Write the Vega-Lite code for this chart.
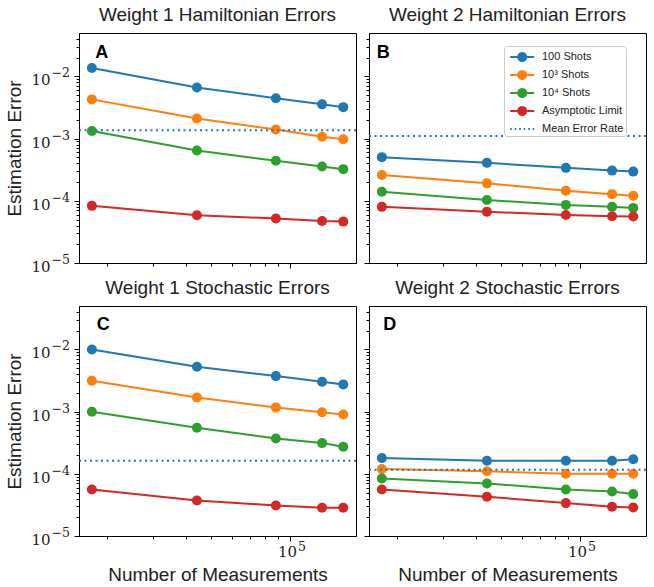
{
  "$schema": "https://vega.github.io/schema/vega-lite/v6.json",
  "padding": {"left": 5, "top": 5, "right": 4, "bottom": 0},
  "background": "white",
  "config": {
    "view": {"stroke": "black", "strokeWidth": 1},
    "title": {"font": "Liberation Sans", "fontSize": 19, "fontWeight": "normal", "color": "#222222", "anchor": "middle", "offset": 8, "frame": "group"},
    "axis": {"grid": false, "domainColor": "black", "tickColor": "black", "labelColor": "#222222", "titleColor": "#222222", "labelFont": "DejaVu Serif", "labelFontSize": 15, "titleFont": "Liberation Sans", "titleFontSize": 19, "titleFontWeight": "normal", "labelOverlap": false, "labelFlush": false, "tickWidth": 1, "labelPadding": 3}
  },
  "datasets": {
    "pts": [
      {"p":"A","s":"100 Shots","n":17500,"e":0.01365},
      {"p":"A","s":"100 Shots","n":44000,"e":0.00664},
      {"p":"A","s":"100 Shots","n":88000,"e":0.00445},
      {"p":"A","s":"100 Shots","n":132000,"e":0.00356},
      {"p":"A","s":"100 Shots","n":159000,"e":0.00321},
      {"p":"A","s":"10³ Shots","n":17500,"e":0.00428},
      {"p":"A","s":"10³ Shots","n":44000,"e":0.00211},
      {"p":"A","s":"10³ Shots","n":88000,"e":0.00140},
      {"p":"A","s":"10³ Shots","n":132000,"e":0.00107},
      {"p":"A","s":"10³ Shots","n":159000,"e":0.000975},
      {"p":"A","s":"10⁴ Shots","n":17500,"e":0.00133},
      {"p":"A","s":"10⁴ Shots","n":44000,"e":0.000646},
      {"p":"A","s":"10⁴ Shots","n":88000,"e":0.000440},
      {"p":"A","s":"10⁴ Shots","n":132000,"e":0.000356},
      {"p":"A","s":"10⁴ Shots","n":159000,"e":0.000323},
      {"p":"A","s":"Asymptotic Limit","n":17500,"e":0.000083},
      {"p":"A","s":"Asymptotic Limit","n":44000,"e":0.0000587},
      {"p":"A","s":"Asymptotic Limit","n":88000,"e":0.0000519},
      {"p":"A","s":"Asymptotic Limit","n":132000,"e":0.0000474},
      {"p":"A","s":"Asymptotic Limit","n":159000,"e":0.0000463},
      {"p":"B","s":"100 Shots","n":17500,"e":0.000504},
      {"p":"B","s":"100 Shots","n":44000,"e":0.000408},
      {"p":"B","s":"100 Shots","n":88000,"e":0.000339},
      {"p":"B","s":"100 Shots","n":132000,"e":0.000306},
      {"p":"B","s":"100 Shots","n":159000,"e":0.000295},
      {"p":"B","s":"10³ Shots","n":17500,"e":0.000261},
      {"p":"B","s":"10³ Shots","n":44000,"e":0.000191},
      {"p":"B","s":"10³ Shots","n":88000,"e":0.000145},
      {"p":"B","s":"10³ Shots","n":132000,"e":0.000128},
      {"p":"B","s":"10³ Shots","n":159000,"e":0.000121},
      {"p":"B","s":"10⁴ Shots","n":17500,"e":0.000140},
      {"p":"B","s":"10⁴ Shots","n":44000,"e":0.000103},
      {"p":"B","s":"10⁴ Shots","n":88000,"e":0.000086},
      {"p":"B","s":"10⁴ Shots","n":132000,"e":0.000080},
      {"p":"B","s":"10⁴ Shots","n":159000,"e":0.000077},
      {"p":"B","s":"Asymptotic Limit","n":17500,"e":0.000080},
      {"p":"B","s":"Asymptotic Limit","n":44000,"e":0.000067},
      {"p":"B","s":"Asymptotic Limit","n":88000,"e":0.000059},
      {"p":"B","s":"Asymptotic Limit","n":132000,"e":0.0000565},
      {"p":"B","s":"Asymptotic Limit","n":159000,"e":0.000056},
      {"p":"C","s":"100 Shots","n":17500,"e":0.0100},
      {"p":"C","s":"100 Shots","n":44000,"e":0.00527},
      {"p":"C","s":"100 Shots","n":88000,"e":0.00373},
      {"p":"C","s":"100 Shots","n":132000,"e":0.00303},
      {"p":"C","s":"100 Shots","n":159000,"e":0.00273},
      {"p":"C","s":"10³ Shots","n":17500,"e":0.00314},
      {"p":"C","s":"10³ Shots","n":44000,"e":0.00169},
      {"p":"C","s":"10³ Shots","n":88000,"e":0.00117},
      {"p":"C","s":"10³ Shots","n":132000,"e":0.00098},
      {"p":"C","s":"10³ Shots","n":159000,"e":0.000901},
      {"p":"C","s":"10⁴ Shots","n":17500,"e":0.000995},
      {"p":"C","s":"10⁴ Shots","n":44000,"e":0.000551},
      {"p":"C","s":"10⁴ Shots","n":88000,"e":0.000371},
      {"p":"C","s":"10⁴ Shots","n":132000,"e":0.000312},
      {"p":"C","s":"10⁴ Shots","n":159000,"e":0.000272},
      {"p":"C","s":"Asymptotic Limit","n":17500,"e":0.000056},
      {"p":"C","s":"Asymptotic Limit","n":44000,"e":0.0000373},
      {"p":"C","s":"Asymptotic Limit","n":88000,"e":0.000031},
      {"p":"C","s":"Asymptotic Limit","n":132000,"e":0.0000285},
      {"p":"C","s":"Asymptotic Limit","n":159000,"e":0.0000285},
      {"p":"D","s":"100 Shots","n":17500,"e":0.000179},
      {"p":"D","s":"100 Shots","n":44000,"e":0.000162},
      {"p":"D","s":"100 Shots","n":88000,"e":0.000162},
      {"p":"D","s":"100 Shots","n":132000,"e":0.000162},
      {"p":"D","s":"100 Shots","n":159000,"e":0.000171},
      {"p":"D","s":"10³ Shots","n":17500,"e":0.000119},
      {"p":"D","s":"10³ Shots","n":44000,"e":0.000110},
      {"p":"D","s":"10³ Shots","n":88000,"e":0.000100},
      {"p":"D","s":"10³ Shots","n":132000,"e":0.000100},
      {"p":"D","s":"10³ Shots","n":159000,"e":0.000100},
      {"p":"D","s":"10⁴ Shots","n":17500,"e":0.0000843},
      {"p":"D","s":"10⁴ Shots","n":44000,"e":0.000070},
      {"p":"D","s":"10⁴ Shots","n":88000,"e":0.000056},
      {"p":"D","s":"10⁴ Shots","n":132000,"e":0.000052},
      {"p":"D","s":"10⁴ Shots","n":159000,"e":0.0000472},
      {"p":"D","s":"Asymptotic Limit","n":17500,"e":0.000056},
      {"p":"D","s":"Asymptotic Limit","n":44000,"e":0.0000428},
      {"p":"D","s":"Asymptotic Limit","n":88000,"e":0.0000338},
      {"p":"D","s":"Asymptotic Limit","n":132000,"e":0.0000296},
      {"p":"D","s":"Asymptotic Limit","n":159000,"e":0.0000288}
    ],
    "mean": [
      {"p":"A","s":"Mean Error Rate","e":0.00136},
      {"p":"B","s":"Mean Error Rate","e":0.0011},
      {"p":"C","s":"Mean Error Rate","e":0.000163},
      {"p":"D","s":"Mean Error Rate","e":0.000116}
    ]
  },
  "columns": 2,
  "bounds": "flush",
  "spacing": {"row": 43, "column": 13},
  "resolve": {"scale": {"color": "independent"}, "legend": {"color": "independent"}},
  "concat": [
    {
      "width": 277, "height": 230,
      "title": {"text": "Weight 1 Hamiltonian Errors", "frame": "group"},
      "resolve": {"axis": {"y": "independent"}},
      "layer": [
        {"data": {"name": "pts"}, "transform": [{"filter": "datum.p==='A'"}],
         "mark": {"type": "line", "strokeWidth": 2},
         "encoding": {
           "x": {"field": "n", "type": "quantitative", "scale": {"type": "log", "domain": [15630, 177800], "nice": false},
                 "axis": {"orient": "bottom", "values": [20000,30000,40000,50000,60000,70000,80000,90000,100000], "labels": false, "title": null, "tickSize": {"condition": {"test": "datum.value===100000", "value": 5}, "value": 3}}},
           "y": {"field": "e", "type": "quantitative", "scale": {"type": "log", "domain": [0.00001, 0.05], "nice": false},
                 "axis": {"orient": "left", "values": [0.00001,0.00002,0.00003,0.00004,0.00005,0.00006,0.00007,0.00008,0.00009,0.0001,0.0002,0.0003,0.0004,0.0005,0.0006,0.0007,0.0008,0.0009,0.001,0.002,0.003,0.004,0.005,0.006,0.007,0.008,0.009,0.01,0.02,0.03,0.04],
                          "labelExpr": "datum.value===0.01||datum.value===0.001||datum.value===0.0001||datum.value===0.00001?'10':''",
                          "labelPadding": 24, "labelOffset": 3.5,
                          "title": "Estimation Error", "titlePadding": 6,
                          "tickSize": {"condition": {"test": "datum.value===0.01||datum.value===0.001||datum.value===0.0001||datum.value===0.00001", "value": 5}, "value": 3}}},
           "color": {"field": "s", "type": "nominal", "scale": {"domain": ["100 Shots","10³ Shots","10⁴ Shots","Asymptotic Limit","Mean Error Rate"], "range": ["#1f77b4","#ff7f0e","#2ca02c","#d62728","#1f77b4"]}, "legend": null}
         }},
        {"data": {"name": "pts"}, "transform": [{"filter": "datum.p==='A'"}],
         "mark": {"type": "point", "filled": true, "size": 100, "opacity": 1},
         "encoding": {
           "x": {"field": "n", "type": "quantitative"},
           "y": {"field": "e", "type": "quantitative", "axis": null},
           "color": {"field": "s", "type": "nominal", "legend": null}
         }},
        {"data": {"name": "mean"}, "transform": [{"filter": "datum.p==='A'"}],
         "mark": {"type": "rule", "strokeWidth": 2, "strokeDash": [2, 3.5]},
         "encoding": {
           "y": {"field": "e", "type": "quantitative",
                 "axis": {"orient": "left", "values": [0.00001, 0.0001, 0.001, 0.01], "labelExpr": "datum.value===0.01?'−2':datum.value===0.001?'−3':datum.value===0.0001?'−4':'−5'", "labelFontSize": 12.5, "labelAlign": "left", "labelPadding": 28, "labelOffset": -3.5, "tickSize": 0, "tickOpacity": 0, "domain": false, "title": null}},
           "color": {"field": "s", "type": "nominal", "legend": null}
         }},
        {"data": {"values": [{}]},
         "mark": {"type": "text", "text": "A", "font": "Liberation Sans", "fontWeight": "bold", "fontSize": 18, "align": "center", "baseline": "middle", "color": "black"},
         "encoding": {"x": {"datum": 19080, "type": "quantitative"}, "y": {"datum": 0.0239, "type": "quantitative", "axis": null}}}
      ]
    },
    {
      "width": 277, "height": 230,
      "title": {"text": "Weight 2 Hamiltonian Errors", "frame": "group"},
      "layer": [
        {"data": {"name": "pts"}, "transform": [{"filter": "datum.p==='B'"}],
         "mark": {"type": "line", "strokeWidth": 2},
         "encoding": {
           "x": {"field": "n", "type": "quantitative", "scale": {"type": "log", "domain": [15630, 177800], "nice": false},
                 "axis": {"values": [20000,30000,40000,50000,60000,70000,80000,90000,100000], "labels": false, "title": null, "tickSize": {"condition": {"test": "datum.value===100000", "value": 5}, "value": 3}}},
           "y": {"field": "e", "type": "quantitative", "scale": {"type": "log", "domain": [0.00001, 0.05], "nice": false},
                 "axis": {"values": [0.00001,0.00002,0.00003,0.00004,0.00005,0.00006,0.00007,0.00008,0.00009,0.0001,0.0002,0.0003,0.0004,0.0005,0.0006,0.0007,0.0008,0.0009,0.001,0.002,0.003,0.004,0.005,0.006,0.007,0.008,0.009,0.01,0.02,0.03,0.04],
                          "labels": false, "title": null,
                          "tickSize": {"condition": {"test": "datum.value===0.01||datum.value===0.001||datum.value===0.0001||datum.value===0.00001", "value": 5}, "value": 3}}},
           "color": {"field": "s", "type": "nominal", "scale": {"domain": ["100 Shots","10³ Shots","10⁴ Shots","Asymptotic Limit","Mean Error Rate"], "range": ["#1f77b4","#ff7f0e","#2ca02c","#d62728","#1f77b4"]},
                     "legend": {
                       "title": null, "orient": "none", "legendX": 135, "legendY": 13,
                       "fillColor": "white", "strokeColor": "#cccccc", "cornerRadius": 3, "padding": 2,
                       "labelFont": "Liberation Sans", "labelFontSize": 11, "labelColor": "#222222",
                       "symbolSize": 256, "rowPadding": -2, "labelOffset": 18,
                       "encode": {"symbols": {"update": {
                         "shape": {"signal": "datum.value==='Mean Error Rate' ? 'M-0.6,0H2.4' : 'M-0.6,0H2.4M0.4,0A0.5,0.5,0,1,1,1.4,0A0.5,0.5,0,1,1,0.4,0'"},
                         "fill": {"signal": "datum.value==='Mean Error Rate' ? 'transparent' : datum.value==='100 Shots' ? '#1f77b4' : datum.value==='10³ Shots' ? '#ff7f0e' : datum.value==='10⁴ Shots' ? '#2ca02c' : '#d62728'"},
                         "stroke": {"signal": "datum.value==='10³ Shots' ? '#ff7f0e' : datum.value==='10⁴ Shots' ? '#2ca02c' : datum.value==='Asymptotic Limit' ? '#d62728' : '#1f77b4'"},
                         "strokeDash": {"signal": "datum.value==='Mean Error Rate' ? [1.5,3] : [1,0]"},
                         "strokeWidth": {"value": 2},
                         "opacity": {"value": 1}
                       }}}
                     }}
         }},
        {"data": {"name": "pts"}, "transform": [{"filter": "datum.p==='B'"}],
         "mark": {"type": "point", "filled": true, "size": 100, "opacity": 1},
         "encoding": {
           "x": {"field": "n", "type": "quantitative"},
           "y": {"field": "e", "type": "quantitative"},
           "color": {"field": "s", "type": "nominal"}
         }},
        {"data": {"name": "mean"}, "transform": [{"filter": "datum.p==='B'"}],
         "mark": {"type": "rule", "strokeWidth": 2, "strokeDash": [2, 3.5]},
         "encoding": {
           "y": {"field": "e", "type": "quantitative"},
           "color": {"field": "s", "type": "nominal"}
         }},
        {"data": {"values": [{}]},
         "mark": {"type": "text", "text": "B", "font": "Liberation Sans", "fontWeight": "bold", "fontSize": 18, "align": "center", "baseline": "middle", "color": "black"},
         "encoding": {"x": {"datum": 17700, "type": "quantitative"}, "y": {"datum": 0.0239, "type": "quantitative"}}}
      ]
    },
    {
      "width": 277, "height": 230,
      "title": {"text": "Weight 1 Stochastic Errors", "frame": "group"},
      "resolve": {"axis": {"y": "independent", "x": "independent"}},
      "layer": [
        {"data": {"name": "pts"}, "transform": [{"filter": "datum.p==='C'"}],
         "mark": {"type": "line", "strokeWidth": 2},
         "encoding": {
           "x": {"field": "n", "type": "quantitative", "scale": {"type": "log", "domain": [15630, 177800], "nice": false},
                 "axis": {"orient": "bottom", "values": [20000,30000,40000,50000,60000,70000,80000,90000,100000], "labelExpr": "datum.value===100000?'10':''", "labelOffset": -3.5, "labelPadding": 3, "title": "Number of Measurements", "titlePadding": 6, "tickSize": {"condition": {"test": "datum.value===100000", "value": 5}, "value": 3}}},
           "y": {"field": "e", "type": "quantitative", "scale": {"type": "log", "domain": [0.00001, 0.05], "nice": false},
                 "axis": {"orient": "left", "values": [0.00001,0.00002,0.00003,0.00004,0.00005,0.00006,0.00007,0.00008,0.00009,0.0001,0.0002,0.0003,0.0004,0.0005,0.0006,0.0007,0.0008,0.0009,0.001,0.002,0.003,0.004,0.005,0.006,0.007,0.008,0.009,0.01,0.02,0.03,0.04],
                          "labelExpr": "datum.value===0.01||datum.value===0.001||datum.value===0.0001||datum.value===0.00001?'10':''",
                          "labelPadding": 24, "labelOffset": 3.5,
                          "title": "Estimation Error", "titlePadding": 6,
                          "tickSize": {"condition": {"test": "datum.value===0.01||datum.value===0.001||datum.value===0.0001||datum.value===0.00001", "value": 5}, "value": 3}}},
           "color": {"field": "s", "type": "nominal", "scale": {"domain": ["100 Shots","10³ Shots","10⁴ Shots","Asymptotic Limit","Mean Error Rate"], "range": ["#1f77b4","#ff7f0e","#2ca02c","#d62728","#1f77b4"]}, "legend": null}
         }},
        {"data": {"name": "pts"}, "transform": [{"filter": "datum.p==='C'"}],
         "mark": {"type": "point", "filled": true, "size": 100, "opacity": 1},
         "encoding": {
           "x": {"field": "n", "type": "quantitative",
                 "axis": {"orient": "bottom", "values": [100000], "labelExpr": "'5'", "labelFontSize": 12.5, "labelAlign": "left", "labelBaseline": "top", "labelPadding": 4, "labelOffset": 7, "tickSize": 0, "tickOpacity": 0, "domain": false, "title": null}},
           "y": {"field": "e", "type": "quantitative", "axis": null},
           "color": {"field": "s", "type": "nominal", "legend": null}
         }},
        {"data": {"name": "mean"}, "transform": [{"filter": "datum.p==='C'"}],
         "mark": {"type": "rule", "strokeWidth": 2, "strokeDash": [2, 3.5]},
         "encoding": {
           "y": {"field": "e", "type": "quantitative",
                 "axis": {"orient": "left", "values": [0.00001, 0.0001, 0.001, 0.01], "labelExpr": "datum.value===0.01?'−2':datum.value===0.001?'−3':datum.value===0.0001?'−4':'−5'", "labelFontSize": 12.5, "labelAlign": "left", "labelPadding": 28, "labelOffset": -3.5, "tickSize": 0, "tickOpacity": 0, "domain": false, "title": null}},
           "color": {"field": "s", "type": "nominal", "legend": null}
         }},
        {"data": {"values": [{}]},
         "mark": {"type": "text", "text": "C", "font": "Liberation Sans", "fontWeight": "bold", "fontSize": 18, "align": "center", "baseline": "middle", "color": "black"},
         "encoding": {"x": {"datum": 19330, "type": "quantitative", "axis": null}, "y": {"datum": 0.0252, "type": "quantitative", "axis": null}}}
      ]
    },
    {
      "width": 277, "height": 230,
      "title": {"text": "Weight 2 Stochastic Errors", "frame": "group"},
      "resolve": {"axis": {"x": "independent"}},
      "layer": [
        {"data": {"name": "pts"}, "transform": [{"filter": "datum.p==='D'"}],
         "mark": {"type": "line", "strokeWidth": 2},
         "encoding": {
           "x": {"field": "n", "type": "quantitative", "scale": {"type": "log", "domain": [15630, 177800], "nice": false},
                 "axis": {"orient": "bottom", "values": [20000,30000,40000,50000,60000,70000,80000,90000,100000], "labelExpr": "datum.value===100000?'10':''", "labelOffset": -3.5, "labelPadding": 3, "title": "Number of Measurements", "titlePadding": 6, "tickSize": {"condition": {"test": "datum.value===100000", "value": 5}, "value": 3}}},
           "y": {"field": "e", "type": "quantitative", "scale": {"type": "log", "domain": [0.00001, 0.05], "nice": false},
                 "axis": {"values": [0.00001,0.00002,0.00003,0.00004,0.00005,0.00006,0.00007,0.00008,0.00009,0.0001,0.0002,0.0003,0.0004,0.0005,0.0006,0.0007,0.0008,0.0009,0.001,0.002,0.003,0.004,0.005,0.006,0.007,0.008,0.009,0.01,0.02,0.03,0.04],
                          "labels": false, "title": null,
                          "tickSize": {"condition": {"test": "datum.value===0.01||datum.value===0.001||datum.value===0.0001||datum.value===0.00001", "value": 5}, "value": 3}}},
           "color": {"field": "s", "type": "nominal", "scale": {"domain": ["100 Shots","10³ Shots","10⁴ Shots","Asymptotic Limit","Mean Error Rate"], "range": ["#1f77b4","#ff7f0e","#2ca02c","#d62728","#1f77b4"]}, "legend": null}
         }},
        {"data": {"name": "pts"}, "transform": [{"filter": "datum.p==='D'"}],
         "mark": {"type": "point", "filled": true, "size": 100, "opacity": 1},
         "encoding": {
           "x": {"field": "n", "type": "quantitative",
                 "axis": {"orient": "bottom", "values": [100000], "labelExpr": "'5'", "labelFontSize": 12.5, "labelAlign": "left", "labelBaseline": "top", "labelPadding": 4, "labelOffset": 7, "tickSize": 0, "tickOpacity": 0, "domain": false, "title": null}},
           "y": {"field": "e", "type": "quantitative"},
           "color": {"field": "s", "type": "nominal", "legend": null}
         }},
        {"data": {"name": "mean"}, "transform": [{"filter": "datum.p==='D'"}],
         "mark": {"type": "rule", "strokeWidth": 2, "strokeDash": [2, 3.5]},
         "encoding": {
           "y": {"field": "e", "type": "quantitative"},
           "color": {"field": "s", "type": "nominal", "legend": null}
         }},
        {"data": {"values": [{}]},
         "mark": {"type": "text", "text": "D", "font": "Liberation Sans", "fontWeight": "bold", "fontSize": 18, "align": "center", "baseline": "middle", "color": "black"},
         "encoding": {"x": {"datum": 18750, "type": "quantitative", "axis": null}, "y": {"datum": 0.0252, "type": "quantitative"}}}
      ]
    }
  ]
}
